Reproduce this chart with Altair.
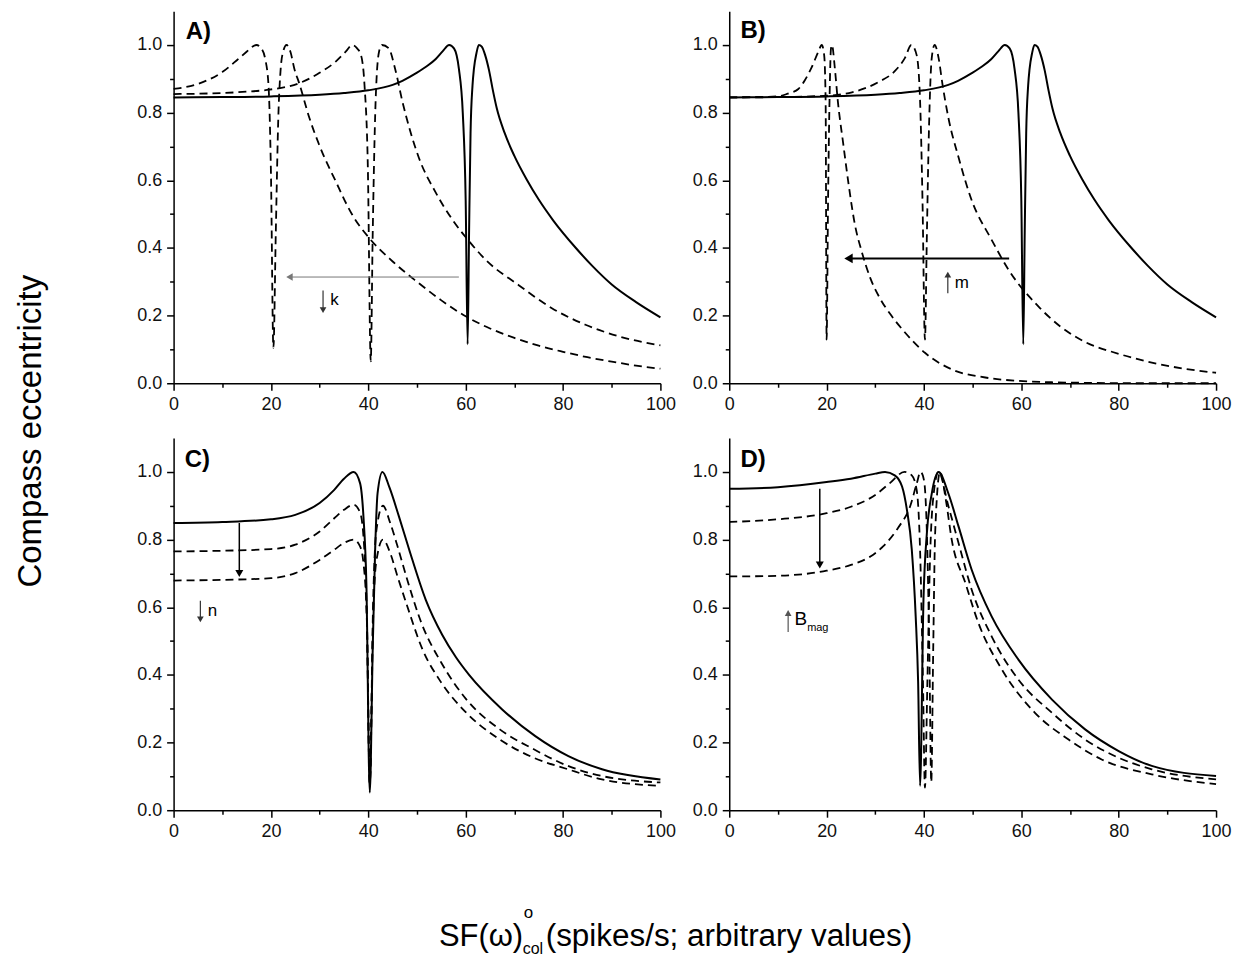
import altair as alt
import pandas as pd

FONT = "Liberation Sans"

X_TICKS = [0, 20, 40, 60, 80, 100]
X_MINOR_TICKS = [10, 30, 50, 70, 90]
Y_TICKS = [0.0, 0.2, 0.4, 0.6, 0.8, 1.0]
Y_MINOR_TICKS = [0.1, 0.3, 0.5, 0.7, 0.9]

# ---------------- Panel A ----------------
A_SOLID_X = [0, 10, 20, 30, 35, 40, 45, 47, 50, 52, 53.8, 55.3, 56.6, 57.6, 58.6, 59.4, 60.0, 60.4, 60.7,
             61.0, 61.4, 61.7, 62.2, 62.7, 63.3, 64.0, 64.8, 65.6, 66.4, 68, 70, 72.5, 75, 78, 82.5, 86, 90,
             95, 100]
A_SOLID_Y = [0.845, 0.846, 0.848, 0.853, 0.858, 0.866, 0.882, 0.894, 0.918, 0.937, 0.958, 0.982, 1.0, 0.99,
             0.93, 0.8, 0.54, 0.115, 0.45, 0.74, 0.88, 0.93, 0.975, 1.0, 0.995, 0.97, 0.925, 0.865, 0.812,
             0.74, 0.672, 0.603, 0.543, 0.481, 0.402, 0.347, 0.292, 0.24, 0.195]
A_D1_X = [0, 5, 10, 13, 15, 16, 17, 18, 18.8, 19.5, 20.0, 20.5, 21.0, 21.5, 22.0, 22.5, 23.2, 24.0, 24.8,
          25.8, 27.9, 29.9, 33.3, 36.7, 40.2, 45, 50, 55, 60, 65, 70, 75, 80, 85, 90, 95, 100]
A_D1_Y = [0.87, 0.885, 0.92, 0.955, 0.98, 0.993, 1.0, 0.99, 0.96, 0.88, 0.62, 0.105, 0.45, 0.78, 0.93, 0.98,
          1.0, 0.98, 0.93, 0.887, 0.784, 0.705, 0.597, 0.498, 0.429, 0.36, 0.3, 0.245, 0.198, 0.162, 0.134,
          0.111, 0.093, 0.077, 0.064, 0.052, 0.043]
A_D2_X = [0, 10, 15, 19.7, 25.8, 29.9, 33.3, 35.4, 36.7, 37.7, 38.5, 39.2, 39.9, 40.5, 40.9, 41.5, 42.2, 42.8,
          44.2, 45.5, 47.0, 50.4, 53.8, 57.2, 60.4, 64.1, 70.9, 77.7, 84.6, 91.4, 100]
A_D2_Y = [0.855, 0.858, 0.862, 0.868, 0.887, 0.917, 0.951, 0.981, 1.0, 0.99, 0.97, 0.885, 0.64, 0.065, 0.44,
          0.835, 0.98, 1.0, 0.99, 0.93, 0.833, 0.666, 0.565, 0.485, 0.425, 0.365, 0.29, 0.222, 0.173, 0.139,
          0.112]

# ---------------- Panel B ----------------
B_SOLID_X = A_SOLID_X
B_SOLID_Y = A_SOLID_Y
B_D1_X = [0, 5, 10, 12, 14.2, 15.5, 16.9, 18.3, 19.0, 19.5, 19.8, 20.0, 20.3, 20.6, 20.9, 21.1, 21.7, 22.3,
          23.4, 24.5, 25.8, 27.2, 29.0, 31.0, 33.3, 36.1, 40.2, 45.7, 52.6, 59.4, 66.2, 75, 85, 100]
B_D1_Y = [0.845, 0.846, 0.848, 0.856, 0.87, 0.895, 0.933, 0.98, 1.0, 0.97, 0.835, 0.129, 0.54, 0.835, 0.99,
          1.0, 0.93, 0.835, 0.71, 0.59, 0.47, 0.39, 0.31, 0.25, 0.2, 0.15, 0.09, 0.041, 0.017, 0.007, 0.003,
          0.001, 0.0, 0.0]
B_D2_X = [0, 10, 20, 25.2, 30.6, 34.1, 36.1, 37.4, 38.5, 39.2, 39.7, 40.2, 40.6, 41.0, 41.6, 42.2, 43.0, 43.8,
          45.0, 47.1, 49.8, 53.9, 57.4, 63.5, 68, 73.1, 80, 86.8, 93, 100]
B_D2_Y = [0.845, 0.846, 0.85, 0.86, 0.89, 0.924, 0.962, 1.0, 0.97, 0.835, 0.54, 0.129, 0.44, 0.735, 0.962,
          1.0, 0.962, 0.884, 0.786, 0.668, 0.541, 0.424, 0.335, 0.227, 0.168, 0.122, 0.087, 0.061, 0.044,
          0.031]

# ---------------- Panel C ----------------
C_SOLID_X = [0, 10, 20, 25, 30, 33, 35, 37, 38.3, 39, 39.6, 40.3, 40.9, 41.4, 41.9, 42.9, 44.3, 46.3, 48.4,
             51.8, 55.2, 58, 60.7, 67.5, 74.3, 81.1, 88, 100]
C_SOLID_Y = [0.849, 0.852, 0.86, 0.873, 0.908, 0.947, 0.98, 1.0, 0.967, 0.868, 0.671, 0.052, 0.475, 0.769,
             0.937, 1.0, 0.956, 0.868, 0.77, 0.622, 0.518, 0.452, 0.4, 0.298, 0.219, 0.16, 0.121, 0.091]
C_D_X = [0, 10, 20, 25, 30, 33, 35, 37, 38.3, 39, 39.7, 40.3, 41.0, 41.6, 43, 44.5, 46, 48, 51, 55, 60, 67,
         74, 81, 88, 100]
C_D1_Y = [0.765, 0.767, 0.772, 0.785, 0.824, 0.863, 0.888, 0.903, 0.88, 0.809, 0.573, 0.08, 0.622, 0.82, 0.9,
          0.849, 0.78, 0.681, 0.55, 0.436, 0.33, 0.239, 0.18, 0.131, 0.101, 0.082]
C_D2_Y = [0.679, 0.681, 0.686, 0.701, 0.74, 0.77, 0.79, 0.8, 0.78, 0.731, 0.56, 0.08, 0.573, 0.731, 0.8, 0.76,
          0.691, 0.603, 0.48, 0.377, 0.29, 0.209, 0.155, 0.121, 0.091, 0.072]

# ---------------- Panel D ----------------
D_SOLID_X = [0, 10, 20, 25, 30, 32, 34, 35.5, 36.5, 37.5, 38.3, 38.8, 39.2, 39.9, 40.6, 41.6, 43.0, 45.0,
             47.1, 49.8, 53.9, 59.4, 66.3, 73.1, 80, 86.8, 100]
D_SOLID_Y = [0.95, 0.955, 0.97, 0.98, 0.995, 1.0, 0.99, 0.957, 0.888, 0.77, 0.573, 0.38, 0.072, 0.622, 0.82,
             0.936, 1.0, 0.937, 0.839, 0.711, 0.573, 0.445, 0.327, 0.239, 0.175, 0.131, 0.101]
D_D1_X = [0, 10, 20, 25, 30, 33, 36, 37.5, 38.5, 39.2, 39.8, 40.2, 40.7, 41.2, 42, 43, 45, 47.1, 49.8, 53.9,
          59.4, 66.3, 73.1, 80, 86.8, 100]
D_D1_Y = [0.852, 0.86, 0.878, 0.897, 0.932, 0.967, 1.0, 0.99, 0.947, 0.77, 0.377, 0.067, 0.377, 0.72, 0.936,
          1.0, 0.9, 0.79, 0.652, 0.514, 0.386, 0.288, 0.209, 0.155, 0.121, 0.091]
D_D2_X = [0, 10, 20, 25, 29, 31.6, 34.7, 37.2, 38.5, 39.3, 40, 40.6, 41.1, 41.5, 41.9, 42.3, 43.3, 44.5, 45.7,
          48.5, 51.2, 56, 62.8, 69.7, 76.5, 86.8, 100]
D_D2_Y = [0.691, 0.693, 0.708, 0.725, 0.75, 0.78, 0.835, 0.9, 0.965, 1.0, 0.976, 0.82, 0.475, 0.083, 0.475,
          0.82, 1.0, 0.917, 0.8, 0.672, 0.553, 0.416, 0.288, 0.209, 0.15, 0.106, 0.077]

XS = alt.Scale(domain=[0, 100], nice=False, zero=False)
YS = alt.Scale(domain=[0, 1.1], nice=False, zero=False)

AX = dict(title=None, grid=False, domainColor="black", tickColor="black", domainWidth=1.5, tickWidth=1.5,
          labelFont=FONT, labelFontSize=18, labelColor="#111111", labelFlush=False, labelOverlap=False)
X_MAJOR = alt.Axis(orient="bottom", values=X_TICKS, tickSize=7, labelPadding=5, format="d", **AX)
Y_MAJOR = alt.Axis(orient="left", values=Y_TICKS, tickSize=7, labelPadding=5, format=".1f", **AX)
X_MINOR = alt.Axis(orient="bottom", values=X_MINOR_TICKS, tickSize=4, labels=False, domain=False, title=None,
                   grid=False, tickColor="black", tickWidth=1.5)
Y_MINOR = alt.Axis(orient="left", values=Y_MINOR_TICKS, tickSize=4, labels=False, domain=False, title=None,
                   grid=False, tickColor="black", tickWidth=1.5)

W, H = 488, 373


def curves_df(curves):
    rows = []
    for name, xs, ys in curves:
        for i, (x, y) in enumerate(zip(xs, ys)):
            rows.append({"series": name, "i": i, "x": x, "y": y})
    return pd.DataFrame(rows)


def arrow(x1, y1, x2, y2, hx, hy, shape, size, color, width):
    df = pd.DataFrame({"x1": [x1], "y1": [y1], "x2": [x2], "y2": [y2], "hx": [hx], "hy": [hy]})
    rule = alt.Chart(df).mark_rule(color=color, strokeWidth=width).encode(
        x=alt.X("x1:Q", scale=XS, axis=None), x2="x2:Q",
        y=alt.Y("y1:Q", scale=YS, axis=None), y2="y2:Q")
    head = alt.Chart(df).mark_point(shape=shape, filled=True, size=size, color=color, opacity=1,
                                    strokeWidth=0).encode(
        x=alt.X("hx:Q", scale=XS, axis=None), y=alt.Y("hy:Q", scale=YS, axis=None))
    return [rule, head]


def label(x, y, text, size=17, weight="normal", color="black"):
    df = pd.DataFrame({"x": [x], "y": [y], "t": [text]})
    return alt.Chart(df).mark_text(align="left", baseline="middle", font=FONT, fontSize=size,
                                   fontWeight=weight, color=color).encode(
        x=alt.X("x:Q", scale=XS, axis=None), y=alt.Y("y:Q", scale=YS, axis=None), text="t:N")


def pix_text(px, py, text, size, align="left", baseline="alphabetic", angle=0):
    return alt.Chart(pd.DataFrame({"t": [text]})).mark_text(
        align=align, baseline=baseline, font=FONT, fontSize=size, color="black", angle=angle).encode(
        x=alt.value(px), y=alt.value(py), text="t:N")


def panel(solid, dashed, extras):
    sdf = curves_df(solid)
    ddf = curves_df(dashed)
    solid_layer = alt.Chart(sdf).mark_line(color="black", strokeWidth=2, interpolate="monotone").encode(
        x=alt.X("x:Q", scale=XS, axis=X_MAJOR), y=alt.Y("y:Q", scale=YS, axis=Y_MAJOR),
        detail="series:N", order="i:Q")
    dashed_layer = alt.Chart(ddf).mark_line(color="black", strokeWidth=1.8, strokeDash=[8, 5],
                                            interpolate="monotone").encode(
        x=alt.X("x:Q", scale=XS, axis=X_MINOR), y=alt.Y("y:Q", scale=YS, axis=Y_MINOR),
        detail="series:N", order="i:Q")
    return alt.layer(solid_layer, dashed_layer, *extras).resolve_axis(
        x="independent", y="independent").properties(width=W, height=H)


pA = panel(
    [("s", A_SOLID_X, A_SOLID_Y)],
    [("d1", A_D1_X, A_D1_Y), ("d2", A_D2_X, A_D2_Y)],
    arrow(23.8, 0.314, 58.6, 0.314, 23.8, 0.314, "triangle-left", 55, "#777777", 1)
    + arrow(30.7, 0.274, 30.7, 0.222, 30.7, 0.216, "triangle-down", 45, "#333333", 1.2)
    + [label(32.2, 0.247, "k", 17), label(2.5, 1.037, "A)", 24, "bold"),
       pix_text(-143, 421, "Compass eccentricity", 33, align="center", baseline="middle", angle=270)]
)
pB = panel(
    [("s", B_SOLID_X, B_SOLID_Y)],
    [("d1", B_D1_X, B_D1_Y), ("d2", B_D2_X, B_D2_Y)],
    arrow(24.5, 0.369, 57.5, 0.369, 24.5, 0.369, "triangle-left", 95, "black", 2)
    + arrow(44.9, 0.266, 44.9, 0.315, 44.9, 0.321, "triangle-up", 45, "#333333", 1.2)
    + [label(46.3, 0.297, "m", 17), label(2.3, 1.04, "B)", 24, "bold")]
)
pC = panel(
    [("s", C_SOLID_X, C_SOLID_Y)],
    [("d1", C_D_X, C_D1_Y), ("d2", C_D_X, C_D2_Y)],
    arrow(13.5, 0.849, 13.5, 0.7, 13.5, 0.7, "triangle-down", 65, "black", 1.5)
    + arrow(5.5, 0.619, 5.5, 0.57, 5.5, 0.564, "triangle-down", 45, "#333333", 1.2)
    + [label(7.0, 0.588, "n", 17), label(2.3, 1.035, "C)", 24, "bold"),
       pix_text(266, 509, "SF(\u03c9)", 31),
       pix_text(351, 481, "o", 17),
       pix_text(350, 517, "col", 16),
       pix_text(373, 509, "(spikes/s; arbitrary values)", 31.5)]
)
pD = panel(
    [("s", D_SOLID_X, D_SOLID_Y)],
    [("d1", D_D1_X, D_D1_Y), ("d2", D_D2_X, D_D2_Y)],
    arrow(18.6, 0.95, 18.6, 0.725, 18.6, 0.725, "triangle-down", 65, "black", 1.5)
    + arrow(12.1, 0.527, 12.1, 0.577, 12.1, 0.583, "triangle-up", 45, "#555555", 1.2)
    + [label(13.4, 0.566, "B", 19), label(16.0, 0.54, "mag", 11), label(2.3, 1.035, "D)", 24, "bold")]
)

chart = alt.ConcatChart(concat=[pA, pB, pC, pD], columns=2, spacing={"row": 55, "column": 69},
                        bounds="flush").properties(
    padding={"left": 7, "top": 2, "right": 5, "bottom": 5}, background="white"
).configure_view(stroke=None)

chart.save("out.html", embed_options={"renderer": "svg", "actions": False})
